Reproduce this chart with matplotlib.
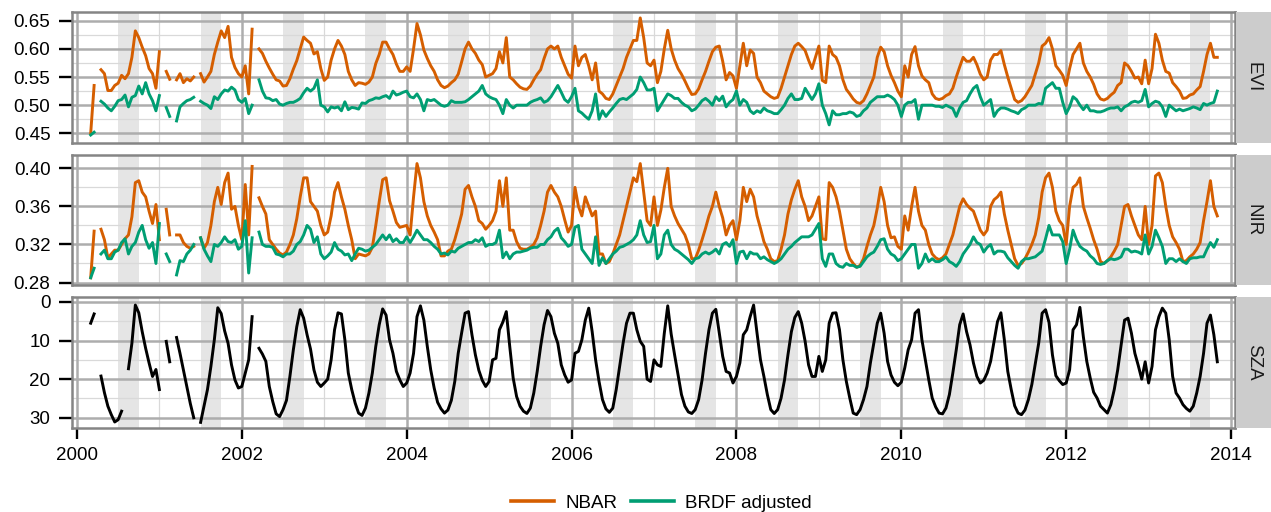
import numpy as np
import matplotlib
matplotlib.use("Agg")
import matplotlib.pyplot as plt
from matplotlib.lines import Line2D

nan = float("nan")

years = list(range(2000, 2014))
half_months_per_year = 24

# ---- EVI, NBAR (24 half-monthly values per year) ----
evi_nbar = [
    # 2000
    nan, nan, nan, nan, 0.45, 0.535, nan, 0.563, 0.556, 0.526, 0.526, 0.535,
    0.539, 0.553, 0.547, 0.556, 0.585, 0.632, 0.62, 0.603, 0.588, 0.565, 0.556, 0.53,
    # 2001
    0.595, nan, 0.56, 0.546, nan, 0.545, 0.556, 0.54, 0.547, 0.543, 0.55, nan,
    0.556, 0.541, 0.55, 0.56, 0.59, 0.612, 0.632, 0.62, 0.64, 0.585, 0.567, 0.556,
    # 2002
    0.55, 0.57, 0.52, 0.635, nan, 0.60, 0.592, 0.578, 0.566, 0.555, 0.545, 0.543,
    0.534, 0.535, 0.547, 0.564, 0.579, 0.60, 0.621, 0.615, 0.61, 0.591, 0.595, 0.565,
    # 2003
    0.544, 0.55, 0.58, 0.60, 0.615, 0.605, 0.59, 0.56, 0.545, 0.535, 0.54, 0.539,
    0.537, 0.541, 0.55, 0.574, 0.59, 0.612, 0.612, 0.60, 0.59, 0.573, 0.56, 0.56,
    # 2004
    0.568, 0.56, 0.60, 0.645, 0.625, 0.598, 0.583, 0.57, 0.56, 0.545, 0.535, 0.531,
    0.534, 0.54, 0.545, 0.555, 0.577, 0.60, 0.612, 0.60, 0.592, 0.58, 0.572, 0.55,
    # 2005
    0.553, 0.556, 0.565, 0.595, 0.575, 0.62, 0.55, 0.545, 0.538, 0.532, 0.529, 0.528,
    0.534, 0.545, 0.555, 0.563, 0.583, 0.60, 0.605, 0.60, 0.605, 0.585, 0.57, 0.555,
    # 2006
    0.548, 0.605, 0.57, 0.585, 0.59, 0.57, 0.545, 0.575, 0.525, 0.52, 0.512, 0.51,
    0.52, 0.535, 0.55, 0.565, 0.585, 0.60, 0.615, 0.615, 0.655, 0.62, 0.575, 0.57,
    # 2007
    0.58, 0.54, 0.56, 0.60, 0.633, 0.60, 0.58, 0.565, 0.555, 0.543, 0.53, 0.519,
    0.52, 0.529, 0.545, 0.56, 0.578, 0.595, 0.603, 0.605, 0.578, 0.545, 0.558, 0.552,
    # 2008
    0.53, 0.57, 0.61, 0.57, 0.598, 0.592, 0.55, 0.54, 0.525, 0.52, 0.515, 0.512,
    0.514, 0.53, 0.55, 0.57, 0.59, 0.605, 0.61, 0.604, 0.597, 0.58, 0.565, 0.585,
    # 2009
    0.605, 0.544, 0.54, 0.605, 0.59, 0.585, 0.57, 0.545, 0.528, 0.52, 0.511, 0.505,
    0.503, 0.508, 0.52, 0.535, 0.55, 0.585, 0.603, 0.595, 0.57, 0.553, 0.54, 0.525,
    # 2010
    0.515, 0.57, 0.55, 0.59, 0.604, 0.57, 0.552, 0.545, 0.54, 0.52, 0.512, 0.51,
    0.512, 0.517, 0.52, 0.53, 0.55, 0.568, 0.585, 0.578, 0.578, 0.585, 0.572, 0.555,
    # 2011
    0.545, 0.55, 0.58, 0.59, 0.59, 0.597, 0.572, 0.55, 0.53, 0.51, 0.505, 0.508,
    0.515, 0.525, 0.535, 0.555, 0.575, 0.605, 0.61, 0.62, 0.60, 0.57, 0.562, 0.553,
    # 2012
    0.535, 0.565, 0.59, 0.60, 0.61, 0.575, 0.56, 0.55, 0.537, 0.52, 0.511, 0.509,
    0.512, 0.518, 0.523, 0.535, 0.54, 0.575, 0.57, 0.56, 0.548, 0.55, 0.538, 0.58,
    # 2013
    0.538, 0.565, 0.626, 0.61, 0.58, 0.56, 0.557, 0.54, 0.533, 0.525, 0.512, 0.513,
    0.518, 0.52, 0.527, 0.533, 0.56, 0.59, 0.61, 0.585, 0.585, nan, nan, nan,
]

# ---- EVI, BRDF adjusted ----
evi_brdf = [
    # 2000
    nan, nan, nan, nan, 0.447, 0.452, nan, 0.507, 0.502, 0.495, 0.49, 0.498,
    0.508, 0.51, 0.518, 0.497, 0.514, 0.517, 0.534, 0.52, 0.54, 0.52, 0.508, 0.49,
    # 2001
    0.517, nan, 0.496, 0.48, nan, 0.472, 0.497, 0.503, 0.508, 0.51, 0.514, nan,
    0.507, 0.503, 0.50, 0.494, 0.515, 0.51, 0.52, 0.527, 0.525, 0.532, 0.527, 0.51,
    # 2002
    0.505, 0.512, 0.485, 0.50, nan, 0.545, 0.525, 0.513, 0.512, 0.508, 0.51, 0.502,
    0.50, 0.503, 0.505, 0.505, 0.508, 0.512, 0.522, 0.53, 0.525, 0.53, 0.545, 0.50,
    # 2003
    0.497, 0.488, 0.497, 0.495, 0.497, 0.49, 0.506, 0.492, 0.496, 0.495, 0.493, 0.504,
    0.503, 0.508, 0.51, 0.513, 0.512, 0.515, 0.517, 0.512, 0.525, 0.518, 0.52, 0.523,
    # 2004
    0.525, 0.515, 0.513, 0.52, 0.51, 0.49, 0.51, 0.508, 0.51, 0.505, 0.50, 0.498,
    0.50, 0.508, 0.505, 0.505, 0.505, 0.506, 0.51, 0.515, 0.52, 0.525, 0.535, 0.52,
    # 2005
    0.515, 0.512, 0.51, 0.50, 0.485, 0.51, 0.50, 0.495, 0.50, 0.50, 0.50, 0.50,
    0.505, 0.508, 0.51, 0.513, 0.505, 0.508, 0.515, 0.525, 0.535, 0.523, 0.51, 0.505,
    # 2006
    0.515, 0.53, 0.49, 0.486, 0.48, 0.475, 0.49, 0.52, 0.475, 0.49, 0.48, 0.488,
    0.495, 0.503, 0.51, 0.512, 0.51, 0.515, 0.52, 0.528, 0.55, 0.54, 0.527, 0.527,
    # 2007
    0.53, 0.49, 0.50, 0.51, 0.52, 0.517, 0.512, 0.512, 0.505, 0.50, 0.497, 0.49,
    0.493, 0.50, 0.508, 0.512, 0.507, 0.50, 0.515, 0.508, 0.516, 0.497, 0.505, 0.51,
    # 2008
    0.525, 0.50, 0.51, 0.505, 0.49, 0.485, 0.49, 0.487, 0.495, 0.49, 0.488, 0.485,
    0.485, 0.492, 0.50, 0.512, 0.52, 0.51, 0.51, 0.512, 0.53, 0.52, 0.51, 0.52,
    # 2009
    0.538, 0.50, 0.485, 0.465, 0.49, 0.483, 0.483, 0.485, 0.485, 0.488, 0.486, 0.48,
    0.482, 0.49, 0.495, 0.505, 0.51, 0.515, 0.515, 0.515, 0.518, 0.515, 0.51, 0.50,
    # 2010
    0.48, 0.50, 0.505, 0.505, 0.51, 0.475, 0.50, 0.50, 0.50, 0.50, 0.498, 0.498,
    0.496, 0.50, 0.497, 0.494, 0.48, 0.495, 0.505, 0.508, 0.52, 0.53, 0.535, 0.515,
    # 2011
    0.50, 0.505, 0.51, 0.48, 0.49, 0.495, 0.495, 0.493, 0.49, 0.488, 0.485, 0.492,
    0.495, 0.50, 0.50, 0.50, 0.503, 0.502, 0.53, 0.535, 0.54, 0.53, 0.53, 0.505,
    # 2012
    0.485, 0.497, 0.515, 0.51, 0.50, 0.492, 0.50, 0.49, 0.49, 0.488, 0.488, 0.49,
    0.493, 0.495, 0.495, 0.497, 0.49, 0.497, 0.50, 0.505, 0.507, 0.505, 0.508, 0.528,
    # 2013
    0.497, 0.503, 0.507, 0.505, 0.497, 0.48, 0.50, 0.495, 0.49, 0.493, 0.49, 0.492,
    0.494, 0.497, 0.495, 0.492, 0.503, 0.50, 0.503, 0.505, 0.525, nan, nan, nan,
]

# ---- NIR, NBAR ----
nir_nbar = [
    # 2000
    nan, nan, nan, nan, 0.285, 0.334, nan, 0.336, 0.325, 0.306, 0.31, 0.314,
    0.314, 0.32, 0.326, 0.33, 0.349, 0.385, 0.387, 0.375, 0.37, 0.355, 0.342, 0.362,
    # 2001
    0.325, nan, 0.357, 0.33, nan, 0.33, 0.33, 0.322, 0.318, 0.316, 0.318, nan,
    0.327, 0.316, 0.322, 0.34, 0.365, 0.38, 0.362, 0.385, 0.395, 0.357, 0.36, 0.34,
    # 2002
    0.325, 0.383, 0.33, 0.402, nan, 0.369, 0.36, 0.352, 0.325, 0.32, 0.315, 0.311,
    0.309, 0.312, 0.32, 0.33, 0.347, 0.37, 0.39, 0.39, 0.365, 0.36, 0.355, 0.34,
    # 2003
    0.33, 0.333, 0.35, 0.375, 0.385, 0.37, 0.357, 0.34, 0.325, 0.305, 0.31, 0.309,
    0.308, 0.31, 0.317, 0.34, 0.365, 0.388, 0.39, 0.366, 0.355, 0.343, 0.338, 0.339,
    # 2004
    0.34, 0.33, 0.37, 0.405, 0.39, 0.365, 0.35, 0.34, 0.333, 0.325, 0.308, 0.308,
    0.313, 0.315, 0.325, 0.338, 0.352, 0.378, 0.382, 0.37, 0.36, 0.345, 0.342, 0.336,
    # 2005
    0.34, 0.345, 0.355, 0.387, 0.36, 0.39, 0.335, 0.335, 0.323, 0.316, 0.315, 0.315,
    0.317, 0.32, 0.327, 0.34, 0.355, 0.375, 0.382, 0.375, 0.37, 0.36, 0.346, 0.333,
    # 2006
    0.34, 0.38, 0.36, 0.35, 0.37, 0.36, 0.35, 0.355, 0.31, 0.31, 0.30, 0.302,
    0.31, 0.32, 0.33, 0.345, 0.36, 0.375, 0.39, 0.386, 0.405, 0.375, 0.345, 0.34,
    # 2007
    0.37, 0.34, 0.356, 0.38, 0.40, 0.36, 0.35, 0.342, 0.336, 0.33, 0.32, 0.305,
    0.305, 0.314, 0.325, 0.337, 0.35, 0.36, 0.375, 0.36, 0.348, 0.33, 0.34, 0.345,
    # 2008
    0.325, 0.345, 0.38, 0.365, 0.378, 0.37, 0.35, 0.337, 0.323, 0.315, 0.305, 0.302,
    0.303, 0.315, 0.33, 0.352, 0.367, 0.378, 0.387, 0.37, 0.36, 0.345, 0.35, 0.36,
    # 2009
    0.37, 0.326, 0.325, 0.385, 0.38, 0.37, 0.355, 0.335, 0.315, 0.305, 0.30, 0.296,
    0.298, 0.305, 0.318, 0.33, 0.34, 0.358, 0.38, 0.365, 0.34, 0.327, 0.328, 0.318,
    # 2010
    0.315, 0.35, 0.335, 0.36, 0.38, 0.355, 0.34, 0.335, 0.32, 0.31, 0.306, 0.304,
    0.306, 0.31, 0.32, 0.33, 0.345, 0.36, 0.368, 0.362, 0.358, 0.355, 0.345, 0.335,
    # 2011
    0.33, 0.335, 0.36, 0.367, 0.37, 0.375, 0.352, 0.335, 0.32, 0.305, 0.298, 0.30,
    0.305, 0.312, 0.32, 0.33, 0.348, 0.375, 0.39, 0.395, 0.38, 0.355, 0.345, 0.34,
    # 2012
    0.32, 0.36, 0.38, 0.383, 0.39, 0.36, 0.348, 0.337, 0.325, 0.315, 0.302, 0.30,
    0.303, 0.307, 0.313, 0.32, 0.34, 0.36, 0.362, 0.35, 0.34, 0.33, 0.325, 0.36,
    # 2013
    0.32, 0.34, 0.392, 0.395, 0.385, 0.36, 0.34, 0.328, 0.322, 0.315, 0.302, 0.303,
    0.307, 0.31, 0.315, 0.322, 0.345, 0.365, 0.387, 0.36, 0.35, nan, nan, nan,
]

# ---- NIR, BRDF adjusted ----
nir_brdf = [
    # 2000
    nan, nan, nan, nan, 0.285, 0.295, nan, 0.31, 0.314, 0.305, 0.305, 0.312,
    0.314, 0.322, 0.326, 0.31, 0.318, 0.322, 0.333, 0.34, 0.325, 0.316, 0.322, 0.30,
    # 2001
    0.342, nan, 0.31, 0.302, nan, 0.288, 0.303, 0.302, 0.31, 0.314, 0.32, nan,
    0.327, 0.315, 0.308, 0.302, 0.32, 0.318, 0.322, 0.328, 0.323, 0.322, 0.325, 0.315,
    # 2002
    0.318, 0.345, 0.29, 0.327, nan, 0.333, 0.32, 0.318, 0.318, 0.317, 0.31, 0.309,
    0.307, 0.31, 0.31, 0.313, 0.32, 0.323, 0.33, 0.34, 0.336, 0.322, 0.328, 0.31,
    # 2003
    0.305, 0.308, 0.312, 0.322, 0.315, 0.313, 0.309, 0.31, 0.303, 0.31, 0.316, 0.315,
    0.313, 0.314, 0.317, 0.32, 0.325, 0.33, 0.325, 0.33, 0.323, 0.326, 0.322, 0.322,
    # 2004
    0.328, 0.322, 0.328, 0.335, 0.33, 0.325, 0.325, 0.322, 0.318, 0.315, 0.31, 0.311,
    0.309, 0.313, 0.312, 0.316, 0.318, 0.32, 0.322, 0.322, 0.325, 0.323, 0.327, 0.318,
    # 2005
    0.32, 0.32, 0.322, 0.335, 0.306, 0.312, 0.305, 0.31, 0.312, 0.312, 0.313, 0.314,
    0.316, 0.317, 0.317, 0.32, 0.32, 0.325, 0.328, 0.334, 0.337, 0.327, 0.323, 0.318,
    # 2006
    0.32, 0.338, 0.34, 0.315, 0.31, 0.305, 0.30, 0.328, 0.298, 0.306, 0.30, 0.305,
    0.31, 0.313, 0.317, 0.318, 0.32, 0.322, 0.325, 0.33, 0.345, 0.33, 0.322, 0.323,
    # 2007
    0.34, 0.305, 0.31, 0.33, 0.335, 0.32, 0.315, 0.313, 0.31, 0.307, 0.304, 0.30,
    0.305, 0.306, 0.31, 0.312, 0.31, 0.312, 0.315, 0.31, 0.32, 0.322, 0.318, 0.325,
    # 2008
    0.30, 0.312, 0.313, 0.305, 0.312, 0.31, 0.31, 0.305, 0.307, 0.304, 0.302, 0.30,
    0.302, 0.305, 0.31, 0.315, 0.318, 0.322, 0.325, 0.328, 0.328, 0.328, 0.33, 0.336,
    # 2009
    0.342, 0.305, 0.297, 0.31, 0.31, 0.30, 0.297, 0.296, 0.30, 0.298, 0.298, 0.296,
    0.297, 0.302, 0.307, 0.31, 0.312, 0.318, 0.325, 0.326, 0.315, 0.31, 0.308, 0.303,
    # 2010
    0.305, 0.31, 0.315, 0.32, 0.32, 0.295, 0.30, 0.31, 0.302, 0.305, 0.302, 0.302,
    0.304, 0.307, 0.302, 0.30, 0.297, 0.302, 0.31, 0.315, 0.32, 0.328, 0.322, 0.32,
    # 2011
    0.312, 0.317, 0.32, 0.31, 0.313, 0.313, 0.312, 0.306, 0.302, 0.298, 0.295, 0.302,
    0.305, 0.305, 0.306, 0.307, 0.31, 0.313, 0.326, 0.34, 0.33, 0.33, 0.33, 0.323,
    # 2012
    0.30, 0.315, 0.335, 0.325, 0.318, 0.315, 0.313, 0.308, 0.305, 0.30, 0.299, 0.30,
    0.303, 0.305, 0.304, 0.305, 0.307, 0.315, 0.315, 0.312, 0.313, 0.312, 0.31, 0.33,
    # 2013
    0.31, 0.318, 0.335, 0.327, 0.318, 0.30, 0.305, 0.305, 0.302, 0.305, 0.302, 0.30,
    0.305, 0.306, 0.306, 0.307, 0.307, 0.315, 0.322, 0.317, 0.325, nan, nan, nan,
]

# ---- Solar zenith angle (degrees) ----
sza = [
    # 2000
    nan, nan, nan, nan, 5.5, 3.1, nan, 19.2, 23.5, 27, 29.2, 31.1,
    30.5, 28.3, nan, 17.3, 10.7, 0.8, 2.8, 7.7, 12, 15.8, 19.3, 17.5,
    # 2001
    22.7, nan, 10.2, 15.5, nan, 9.2, 13.3, 17.6, 22, 26.3, 30, nan,
    31.2, 27, 22.7, 16.7, 9.8, 1.5, 3, 7.5, 10.7, 16.3, 20.2, 22.3,
    # 2002
    21.9, 18.4, 15, 3.8, nan, 12, 13.5, 15.4, 21.9, 25.8, 29, 29.7,
    27.9, 25.5, 19.3, 12.4, 6.4, 2, 4.2, 8.5, 12.2, 17.6, 20.8, 21.9,
    # 2003
    21, 20, 15, 7.2, 2.8, 3.1, 9.8, 18.4, 22.7, 26.2, 28.8, 29.4,
    27.5, 23.6, 18.4, 11.5, 5.9, 1.8, 3.4, 9.8, 13.3, 18, 20.2, 21.9,
    # 2004
    21, 18.4, 13.3, 3.8, 1, 4.7, 11.5, 17.6, 22.3, 26, 27.7, 28.8,
    28, 25.5, 20.6, 13.3, 8, 2.9, 2.5, 8.5, 13.7, 17.7, 20.3, 21.9,
    # 2005
    20.6, 15, 14.6, 7.2, 5.2, 2.5, 11.5, 19.7, 24.5, 27, 28.3, 28.9,
    27.5, 23.6, 18, 11.5, 5.9, 2.2, 3.8, 8.1, 10.7, 16.3, 18.9, 20.8,
    # 2006
    20.2, 13.3, 12.8, 9.8, 4.7, 1.6, 7.7, 15, 20.6, 25.3, 27.7, 28.6,
    27.5, 22.7, 16.7, 10.7, 5.5, 2.9, 2.9, 7.2, 10.2, 11.5, 20, 20.6,
    # 2007
    15, 16.3, 16.7, 8.1, 1, 8.3, 13.7, 18.9, 24, 27, 28.5, 28.9,
    27.9, 25.3, 20.2, 13.3, 7.2, 2.9, 1.9, 8.1, 14.1, 18, 18.4, 21,
    # 2008
    19.3, 15.8, 8.5, 7.2, 3.8, 0.8, 8.1, 15, 19.3, 24, 27.9, 28.9,
    27.9, 24.9, 20.2, 13.7, 7.7, 4, 2.5, 5.5, 10.2, 16.3, 19.3, 19.3,
    # 2009
    14.1, 18, 15, 5.5, 2.9, 2.8, 7.2, 15, 20.6, 24.9, 28.8, 29.2,
    27.9, 25.3, 21.9, 15.8, 10.7, 5.5, 2.9, 8.1, 15.4, 18.9, 20.8, 21.7,
    # 2010
    20.8, 17.1, 12.4, 9.8, 2.9, 2, 9.8, 15, 20.2, 24.9, 27.2, 28.8,
    29, 27.5, 24, 18.4, 12.4, 5.9, 3.1, 7.7, 11.1, 15.8, 19.3, 21,
    # 2011
    20.3, 18.4, 15.4, 10.2, 5.1, 2.8, 9.8, 18, 22.7, 26.9, 28.8, 29.2,
    28, 25.3, 21.4, 16, 10.7, 2.9, 2, 5.3, 13.7, 19.1, 20.4, 21.4,
    # 2012
    21, 17.6, 7.2, 5.9, 1.4, 9, 15.4, 19.7, 23.4, 24.9, 27, 27.9,
    28.8, 26.6, 22.7, 17.6, 11.1, 4.7, 4.2, 8.1, 13.3, 16.5, 20, 15.5,
    # 2013
    21, 16.7, 7.2, 3.8, 1.6, 2.9, 9.8, 19.3, 23.6, 24.9, 26.6, 27.6,
    28.3, 27, 23.6, 19.3, 13.3, 5.5, 3.4, 8.5, 15.5, nan, nan, nan,
]

panel_names = ["EVI", "NIR", "SZA"]
series_names = ["NBAR", "BRDF adjusted"]
year_ticks = [2000, 2002, 2004, 2006, 2008, 2010, 2012, 2014]

# decimal-year time stamps: one per half month
t = np.array([y + k / half_months_per_year for y in years for k in range(half_months_per_year)])

c_nbar = "#D55E00"
c_brdf = "#009E73"
band_col = "#E5E5E5"
major_col = "#ADADAD"
minor_col = "#D9D9D9"
border_col = "#858585"
strip_col = "#CCCCCC"

plt.rcParams["font.family"] = ["Liberation Sans", "DejaVu Sans"]
FS = 13.5
LW = 2.1

W, H = 1271, 512
fig = plt.figure(figsize=(W / 100, H / 100), dpi=100)

left_px, right_px = 72, 1235
panels_px = [(12, 143), (155, 285), (297, 428)]
strip_l, strip_r = 1236, 1271

ylims = [(0.4328, 0.6655), (0.2774, 0.414), (32.66, -1.29)]
ymaj = [[0.45, 0.50, 0.55, 0.60, 0.65], [0.28, 0.32, 0.36, 0.40], [0, 10, 20, 30]]
ymin_ = [[0.475, 0.525, 0.575, 0.625], [0.30, 0.34, 0.38], [5, 15, 25]]
ylab = [["0.45", "0.50", "0.55", "0.60", "0.65"], ["0.28", "0.32", "0.36", "0.40"],
        ["0", "10", "20", "30"]]

data = [(evi_nbar, evi_brdf), (nir_nbar, nir_brdf), (sza, None)]

for i, (top, bot) in enumerate(panels_px):
    ax = fig.add_axes([left_px / W, 1 - bot / H, (right_px - left_px) / W, (bot - top) / H])
    ax.set_xlim(1999.94, 2014.048)
    ax.set_ylim(*ylims[i])
    # summer bands (Jul-Sep)
    for y in years:
        ax.axvspan(y + 0.5, y + 0.75, color=band_col, lw=0, zorder=0.2)
    # grid
    for v in ymin_[i]:
        ax.axhline(v, color=minor_col, lw=0.9, zorder=0.3)
    for y in range(2001, 2015, 2):
        ax.axvline(y, color=minor_col, lw=0.9, zorder=0.3)
    for v in ymaj[i]:
        ax.axhline(v, color=major_col, lw=1.8, zorder=0.4)
    for y in year_ticks:
        ax.axvline(y, color=major_col, lw=1.8, zorder=0.4)

    a, b = data[i]
    if b is None:
        ax.plot(t, np.array(a, dtype=float), color="black", lw=LW, zorder=3)
    else:
        ax.plot(t, np.array(a, dtype=float), color=c_nbar, lw=LW, zorder=3)
        ax.plot(t, np.array(b, dtype=float), color=c_brdf, lw=LW, zorder=3)

    ax.set_yticks(ymaj[i])
    ax.set_yticklabels(ylab[i])
    ax.tick_params(axis="y", length=9.5, width=1.7, color="black", pad=6,
                   labelsize=FS, labelcolor="black")
    if i == 2:
        ax.set_xticks(year_ticks)
        ax.set_xticklabels([str(y) for y in year_ticks])
        ax.tick_params(axis="x", length=8, width=1.7, color="black", pad=6,
                       labelsize=FS, labelcolor="black")
    else:
        ax.set_xticks([])
    for s in ax.spines.values():
        s.set_color(border_col)
        s.set_linewidth(1.8)
        s.set_zorder(4)

    # facet strip
    sax = fig.add_axes([strip_l / W, 1 - bot / H, (strip_r - strip_l) / W, (bot - top) / H])
    sax.set_facecolor(strip_col)
    sax.set_xticks([])
    sax.set_yticks([])
    for s in sax.spines.values():
        s.set_visible(False)
    sax.text(0.5, 0.5, panel_names[i], rotation=270, ha="center", va="center",
             fontsize=FS, color="#1A1A1A", transform=sax.transAxes)

handles = [Line2D([], [], color=c_nbar, lw=2.6), Line2D([], [], color=c_brdf, lw=2.6)]
fig.legend(handles, series_names, loc="center", bbox_to_anchor=(0.5205, (H - 503) / H),
           ncol=2, frameon=False, fontsize=FS, handlelength=2.3, handletextpad=0.6,
           columnspacing=0.7)

fig.savefig("out.png", dpi=100)
